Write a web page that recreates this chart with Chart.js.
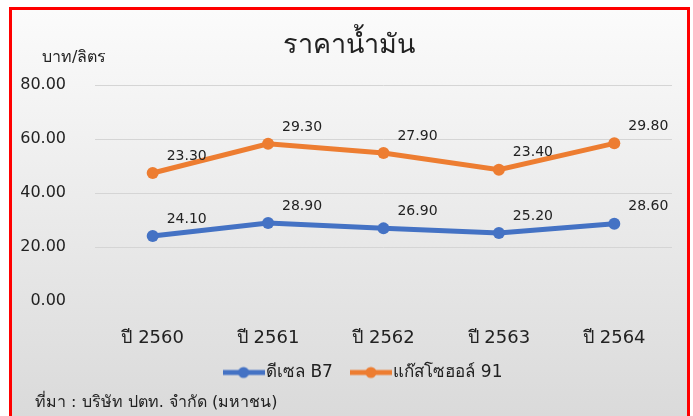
<!DOCTYPE html>
<html>
<head>
<meta charset="utf-8">
<script src="https://cdn.jsdelivr.net/npm/chart.js@4"></script>
<style>
  html, body { margin: 0; padding: 0; background: #fff; width: 693px; height: 416px; overflow: hidden; }
  #frame { position: absolute; left: 9px; top: 7px; width: 675px; height: 420px; border: 3px solid #f00;
           background: linear-gradient(#fbfbfb, #d9d9d9); }
  #wrap { position: absolute; left: 0; top: 0; width: 693px; height: 416px; }
</style>
</head>
<body>
<div id="frame"></div>
<div id="wrap"><canvas id="chart"></canvas></div>
<script>
const years = ['ปี 2560', 'ปี 2561', 'ปี 2562', 'ปี 2563', 'ปี 2564'];
const diesel = [24.10, 28.90, 26.90, 25.20, 28.60];
const gasohol = [23.30, 29.30, 27.90, 23.40, 29.80];
const yTicks = [0, 20, 40, 60, 80];
const seriesNames = ['ดีเซล B7', 'แก๊สโซฮอล์ 91'];
const titleText = 'ราคาน้ำมัน';
const unitText = 'บาท/ลิตร';
const sourceText = 'ที่มา : บริษัท ปตท. จำกัด (มหาชน)';

const BLUE = '#4472c4';
const ORANGE = '#ed7d31';
const TEXT = '#222';
const FONT = 'Tahoma, "DejaVu Sans", sans-serif';

// legend marker: short line with a dot, like the spreadsheet legend
function legendMark(color) {
  const c = document.createElement('canvas');
  c.width = 42; c.height = 14;
  const g = c.getContext('2d');
  g.strokeStyle = color; g.lineWidth = 5;
  g.beginPath(); g.moveTo(0, 7); g.lineTo(42, 7); g.stroke();
  g.fillStyle = color;
  g.beginPath(); g.arc(21, 7, 5.5, 0, Math.PI * 2); g.fill();
  return c;
}

const valueLabels = {
  id: 'valueLabels',
  afterDatasetsDraw(chart) {
    const ctx = chart.ctx;
    ctx.save();
    ctx.font = '14px ' + FONT;
    ctx.fillStyle = TEXT;
    ctx.textAlign = 'center';
    ctx.textBaseline = 'middle';
    chart.data.datasets.forEach((ds, i) => {
      chart.getDatasetMeta(i).data.forEach((pt, j) => {
        ctx.fillText(ds.data[j].toFixed(2), pt.x + 34, pt.y - 17);
      });
    });
    ctx.restore();
  }
};

const extraText = {
  id: 'extraText',
  // legend sits a bit right of the canvas centre and close under the axis
  afterLayout(chart) {
    chart.legend.left = 60;
    chart.legend.top = 340;
  },
  afterDraw(chart) {
    const ctx = chart.ctx;
    ctx.save();
    ctx.fillStyle = TEXT;
    ctx.textBaseline = 'middle';
    ctx.textAlign = 'center';
    ctx.font = '27px ' + FONT;
    ctx.fillText(titleText, 349, 46);
    ctx.textAlign = 'left';
    ctx.font = '16px ' + FONT;
    ctx.fillText(unitText, 42, 58);
    ctx.fillText(sourceText, 35, 403);
    ctx.restore();
  }
};

new Chart(document.getElementById('chart'), {
  type: 'line',
  data: {
    labels: years,
    datasets: [
      { label: seriesNames[0], data: diesel, borderColor: BLUE, backgroundColor: BLUE,
        borderWidth: 5, pointRadius: 6, pointBorderWidth: 0 },
      { label: seriesNames[1], data: gasohol, borderColor: ORANGE, backgroundColor: ORANGE,
        borderWidth: 5, pointRadius: 6, pointBorderWidth: 0 }
    ]
  },
  options: {
    responsive: true,
    maintainAspectRatio: false,
    animation: false,
    elements: { point: { pointStyle: 'circle' }, line: { tension: 0 } },
    layout: { padding: { top: 85, left: 0, right: 21, bottom: 15 } },
    plugins: {
      title: { display: false },
      tooltip: { enabled: false },
      legend: {
        position: 'bottom',
        labels: {
          usePointStyle: true,
          pointStyleWidth: 28,
          padding: 24,
          color: TEXT,
          font: { family: FONT, size: 17 },
          generateLabels(chart) {
            return chart.data.datasets.map((ds, i) => ({
              text: ds.label,
              fontColor: TEXT,
              pointStyle: legendMark(ds.borderColor),
              datasetIndex: i,
              lineWidth: 0,
              strokeStyle: 'transparent',
              fillStyle: ds.borderColor
            }));
          }
        }
      }
    },
    scales: {
      x: {
        offset: true,
        afterFit(scale) { scale.height = 49; },
        grid: { display: false, drawTicks: false },
        border: { display: false },
        ticks: { padding: 27, color: TEXT, font: { family: FONT, size: 18 } }
      },
      y: {
        stacked: true,
        min: 0,
        max: 80,
        afterFit(scale) { scale.width = 95; },
        afterBuildTicks(scale) { scale.ticks = yTicks.map(v => ({ value: v })); },
        grid: {
          drawTicks: false,
          color: ctx => (ctx.tick && ctx.tick.value === 0) ? 'rgba(0,0,0,0)' : '#d5d5d5',
          lineWidth: 1
        },
        border: { display: false },
        ticks: { padding: 29, color: TEXT, font: { family: FONT, size: 16 },
                 callback: v => Number(v).toFixed(2) }
      }
    }
  },
  plugins: [valueLabels, extraText]
});
</script>
</body>
</html>
